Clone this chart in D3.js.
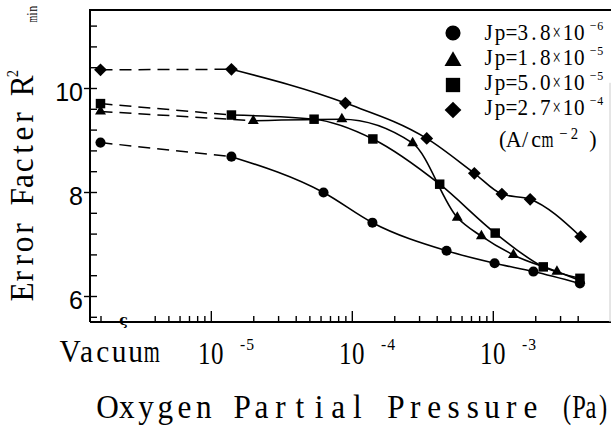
<!DOCTYPE html>
<html>
<head>
<meta charset="utf-8">
<script src="https://cdn.jsdelivr.net/npm/d3@7"></script>
<style>
body{margin:0;background:#fff}
text{font-family:"Liberation Serif","DejaVu Serif",serif;fill:#000}
</style>
</head>
<body>
<script>
// stand-in pressure where the "Vacuum" column sits on the log axis
var vacuumP = 1.65e-6
var breakP = 2.4e-6

var pCircle = [vacuumP, 1.4e-5, 6.3e-5, 1.4e-4, 4.7e-4, 1.03e-3, 1.94e-3, 4.15e-3]
var rCircle = [8.95, 8.68, 7.99, 7.41, 6.87, 6.63, 6.47, 6.24]

var pTriangle = [vacuumP, 2.0e-5, 8.5e-5, 2.7e-4, 5.6e-4, 8.3e-4, 1.4e-3, 2.85e-3, 4.15e-3]
var rTriangle = [9.55, 9.37, 9.40, 8.94, 7.51, 7.15, 6.79, 6.47, 6.30]

var pSquare = [vacuumP, 1.4e-5, 5.4e-5, 1.41e-4, 4.2e-4, 1.04e-3, 2.28e-3, 4.15e-3]
var rSquare = [9.70, 9.48, 9.40, 9.02, 8.15, 7.21, 6.56, 6.34]

var pDiamond = [vacuumP, 1.4e-5, 9.0e-5, 3.4e-4, 7.4e-4, 1.16e-3, 1.84e-3, 4.2e-3]
var rDiamond = [10.35, 10.36, 9.71, 9.03, 8.36, 7.96, 7.86, 7.14]

var jpLabels = ['Jp=3.8×10', 'Jp=1.8×10', 'Jp=5.0×10', 'Jp=2.7×10']
var jpExps = ['−6', '−5', '−5', '−4']

var yMajor = [6, 8, 10]
var yInner = [5.6, 6, 6.4, 6.8, 7.2, 7.6, 8, 8.4, 8.8, 9.2, 9.6, 10, 10.4, 10.8, 11.2]
var xMajor = [1e-5, 1e-4, 1e-3]
var xExps = ['-5', '-4', '-3']
var xMinor = [4e-6, 5e-6, 6e-6, 7e-6, 8e-6, 9e-6,
	2e-5, 3e-5, 4e-5, 5e-5, 6e-5, 7e-5, 8e-5, 9e-5,
	2e-4, 3e-4, 4e-4, 5e-4, 6e-4, 7e-4, 8e-4, 9e-4,
	2e-3, 3e-3, 4e-3]

var width = 611, height = 428

var svg = d3.select('body').append('svg')
	.attr('width', width)
	.attr('height', height)

var x = d3.scaleLog()
	.domain([1.39e-6, 6.78e-3])
	.range([90, 610])

var y = d3.scaleLinear()
	.domain([5.5, 11.5])
	.range([322, 10])

var series = [
	{p: pCircle, r: rCircle, sym: d3.symbolCircle, size: 80, lsize: 180, rot: 0},
	{p: pTriangle, r: rTriangle, sym: d3.symbolTriangle, size: 52, lsize: 125, rot: 0},
	{p: pSquare, r: rSquare, sym: d3.symbolSquare, size: 90, lsize: 205, rot: 0},
	{p: pDiamond, r: rDiamond, sym: d3.symbolSquare, size: 82, lsize: 140, rot: 45}
]

// frame
var x0 = x.range()[0], y0 = y.range()[0], yTop = y.range()[1]
svg.append('line').attr('x1', x0).attr('x2', width).attr('y1', yTop).attr('y2', yTop)
	.attr('stroke', '#000').attr('stroke-width', 2)
svg.append('line').attr('x1', x0).attr('x2', x0).attr('y1', yTop - 1).attr('y2', y0)
	.attr('stroke', '#000').attr('stroke-width', 2)
svg.append('line').attr('x1', x0).attr('x2', width).attr('y1', y0).attr('y2', y0)
	.attr('stroke', '#000').attr('stroke-width', 2)
svg.append('line').attr('x1', x.range()[1]).attr('x2', x.range()[1]).attr('y1', y(10.1)).attr('y2', y0)
	.attr('stroke', '#ccc').attr('stroke-width', 1)

// y axis
svg.append('g')
	.attr('transform', 'translate(' + x0 + ',0)')
	.call(d3.axisLeft(y).tickValues(yInner).tickSize(-7).tickFormat(''))
var gyOut = svg.append('g')
	.attr('transform', 'translate(' + x0 + ',0)')
	.call(d3.axisLeft(y).tickValues(yMajor).tickSize(6).tickPadding(1).tickFormat(d3.format('d')))
gyOut.selectAll('text')
	.attr('dy', 12)
	.style('font-family', '"Liberation Sans", Arial, sans-serif')
	.style('font-size', '25px')

// x axis
svg.append('g')
	.attr('transform', 'translate(0,' + y0 + ')')
	.call(d3.axisBottom(x).tickValues(xMinor.concat([vacuumP])).tickSize(-6).tickFormat(''))
svg.append('g')
	.attr('transform', 'translate(0,' + y0 + ')')
	.call(d3.axisBottom(x).tickValues(xMajor).tickSize(-11).tickFormat(''))

svg.selectAll('.domain').remove()
svg.selectAll('.tick line').attr('stroke', '#000').attr('stroke-width', 1.4)

// axis break mark
svg.append('text')
	.attr('x', x(breakP)).attr('y', y0 + 3)
	.attr('text-anchor', 'middle')
	.style('font-family', '"DejaVu Serif", serif')
	.style('font-size', '14px')
	.style('font-weight', 'bold')
	.text('ς')

// fixed-pitch text: every character sits centred in its own cell, wide glyphs squeezed more
var wide = 'mwMW×'
function mono(parent, t, px, py, size, w, sx) {
	sx = sx || 0.92
	var adv = w / t.length
	var g = parent.append('g').attr('transform', 'translate(' + px + ',' + py + ')')
	t.split('').forEach(function(c, i) {
		var s = wide.indexOf(c) >= 0 ? sx * 0.7 : sx
		g.append('text')
			.attr('transform', 'translate(' + ((i + 0.5) * adv) + ',0) scale(' + s + ',1)')
			.attr('text-anchor', 'middle')
			.style('font-size', size + 'px')
			.text(c)
	})
	return g
}

// x tick labels
mono(svg, 'Vacuum', 62, 362, 32, 98)
xMajor.forEach(function(v, i) {
	mono(svg, '10', x(v) - 13, 364, 32, 26, 0.78)
	mono(svg, xExps[i], x(v) + 28, 350, 17, 15)
})

mono(svg, 'Oxygen Partial Pressure', 98, 418, 34, 442)
mono(svg, '(Pa)', 561, 418, 34, 48, 0.72)

// y label
var gl = svg.append('g').attr('transform', 'translate(33,300) rotate(-90)')
mono(gl, 'Error Facter R', 0, 0, 34, 222)
mono(gl, '2', 222, -15, 16, 9)
mono(gl, 'min', 278, 4, 15, 16, 0.8)

// lines
var line = d3.line()
	.x(function(d) { return x(d[0]) })
	.y(function(d) { return y(d[1]) })
var curve = d3.line()
	.x(function(d) { return x(d[0]) })
	.y(function(d) { return y(d[1]) })
	.curve(d3.curveMonotoneX)

series.forEach(function(s) {
	var pts = s.p.map(function(p, i) { return [p, s.r[i]] })
	svg.append('path')
		.attr('d', line(pts.slice(0, 2)))
		.attr('fill', 'none').attr('stroke', '#000')
		.attr('stroke-width', 1.5).attr('stroke-dasharray', '12,7')
	svg.append('path')
		.attr('d', curve(pts.slice(1)))
		.attr('fill', 'none').attr('stroke', '#000')
		.attr('stroke-width', 1.6)
	svg.append('g').selectAll('path')
		.data(pts).enter()
		.append('path')
		.attr('d', d3.symbol().type(s.sym).size(s.size))
		.attr('transform', function(d) {
			return 'translate(' + x(d[0]) + ',' + y(d[1]) + ') rotate(' + s.rot + ')'
		})
		.attr('fill', '#000')
})

// legend
var legY = [33, 61, 85, 110]
series.forEach(function(s, i) {
	svg.append('path')
		.attr('d', d3.symbol().type(s.sym).size(s.lsize))
		.attr('transform', 'translate(453,' + legY[i] + ') rotate(' + s.rot + ')')
		.attr('fill', '#000')
	mono(svg, jpLabels[i], 483, 40 + 25 * i, 23, 102)
	mono(svg, jpExps[i], 589, 30 + 25 * i, 13, 15)
})
mono(svg, '(A/cm', 497, 147, 24, 56)
mono(svg, '−2', 558, 139, 16, 22)
mono(svg, ')', 588, 147, 24, 10)
</script>
</body>
</html>
